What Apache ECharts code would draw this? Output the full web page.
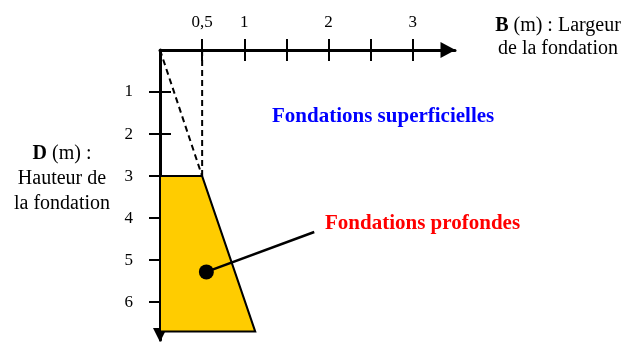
<!DOCTYPE html>
<html>
<head>
<meta charset="utf-8">
<script src="https://cdn.jsdelivr.net/npm/echarts@6/dist/echarts.min.js"></script>
<style>
  html, body { margin: 0; padding: 0; background: #fff; }
  #chart { width: 626px; height: 343px; }
</style>
</head>
<body>
<div id="chart"></div>
<script>
// axes
const xTicks = [0.5, 1, 1.5, 2, 2.5, 3];
const xLabels = [0.5, 1, 2, 3];
const yTicks = [1, 2, 3, 4, 5, 6];
// zone fondations profondes (B, D)
const deepB = [0, 0.5, 1.13, 0];
const deepD = [3, 3, 6.7, 6.7];
// limites en pointillés
const slopeLine = [[0, 0], [0.5, 3]];
const verticalLine = [[0.5, 0], [0.5, 3]];
// repère "Fondations profondes"
const pointer = [[0.55, 5.28], [1.83, 4.33]];
const dot = [[0.55, 5.28]];

const serif = '"Liberation Serif", "DejaVu Serif", serif';
const chart = echarts.init(document.getElementById('chart'));

const option = {
  animation: false,
  grid: { left: 160, top: 50, width: 295, height: 290 },
  xAxis: [
    {
      type: 'value', position: 'top', min: 0, max: 3.5,
      splitLine: { show: false },
      axisLine: {
        lineStyle: { color: '#000', width: 3 },
        symbol: ['none', 'triangle'], symbolSize: [16, 15], symbolOffset: [0, -7]
      },
      axisTick: { inside: false, length: 11, lineStyle: { color: '#000', width: 2 }, customValues: xTicks },
      axisLabel: {
        customValues: xLabels, margin: 19, color: '#000', fontFamily: serif, fontSize: 17,
        formatter: v => String(v).replace('.', ',')
      }
    },
    {
      type: 'value', position: 'top', min: 0, max: 3.5,
      splitLine: { show: false },
      axisLine: { show: false },
      axisTick: { inside: true, length: 11, lineStyle: { color: '#000', width: 2 }, customValues: xTicks },
      axisLabel: { show: false }
    }
  ],
  yAxis: [
    {
      type: 'value', position: 'left', inverse: true, min: 0, max: 6.9,
      splitLine: { show: false },
      axisLine: {
        lineStyle: { color: '#000', width: 3 },
        symbol: ['triangle', 'none'], symbolSize: [14, 14], symbolOffset: [5, 0]
      },
      axisTick: { inside: false, length: 11, lineStyle: { color: '#000', width: 2 }, customValues: yTicks },
      axisLabel: { customValues: yTicks, margin: 27, color: '#000', fontFamily: serif, fontSize: 17 }
    },
    {
      type: 'value', position: 'left', inverse: true, min: 0, max: 6.9,
      splitLine: { show: false },
      axisLine: { show: false },
      axisTick: { inside: true, length: 11, lineStyle: { color: '#000', width: 2 }, customValues: yTicks },
      axisLabel: { show: false }
    }
  ],
  series: [
    {
      type: 'custom',
      z: 1,
      data: [0],
      renderItem: (params, api) => {
        const pts = deepB.map((b, i) => api.coord([b, deepD[i]]));
        return {
          type: 'polygon',
          shape: { points: pts },
          style: { fill: '#FFCC00', stroke: '#000', lineWidth: 2 }
        };
      }
    },
    {
      type: 'line', z: 3, data: slopeLine, symbol: 'none',
      lineStyle: { color: '#000', width: 2, type: [6, 4] }
    },
    {
      type: 'line', z: 3, data: verticalLine, symbol: 'none',
      lineStyle: { color: '#000', width: 2, type: [6, 4] }
    },
    {
      type: 'line', z: 4, data: pointer, symbol: 'none',
      lineStyle: { color: '#000', width: 2.5 }
    },
    {
      type: 'scatter', z: 5, data: dot, symbol: 'circle', symbolSize: 15,
      itemStyle: { color: '#000', opacity: 1 }
    }
  ],
  graphic: [
    {
      type: 'text', x: 558, y: 14,
      style: {
        text: '{b|B} (m) : Largeur\nde la fondation',
        font: '20px ' + serif, fill: '#000', align: 'center', verticalAlign: 'top', lineHeight: 23,
        rich: { b: { fontWeight: 'bold', fontFamily: serif, fontSize: 20, lineHeight: 23 } }
      }
    },
    {
      type: 'text', x: 62, y: 141,
      style: {
        text: '{b|D} (m) :\nHauteur de\nla fondation',
        font: '20px ' + serif, fill: '#000', align: 'center', verticalAlign: 'top', lineHeight: 25,
        rich: { b: { fontWeight: 'bold', fontFamily: serif, fontSize: 20, lineHeight: 25 } }
      }
    },
    {
      type: 'text', x: 272, y: 117,
      style: {
        text: 'Fondations superficielles',
        font: 'bold 21px ' + serif, fill: '#0000FF', align: 'left', verticalAlign: 'middle'
      }
    },
    {
      type: 'text', x: 325, y: 224,
      style: {
        text: 'Fondations profondes',
        font: 'bold 21px ' + serif, fill: '#FF0000', align: 'left', verticalAlign: 'middle'
      }
    }
  ]
};

chart.setOption(option);
</script>
</body>
</html>
